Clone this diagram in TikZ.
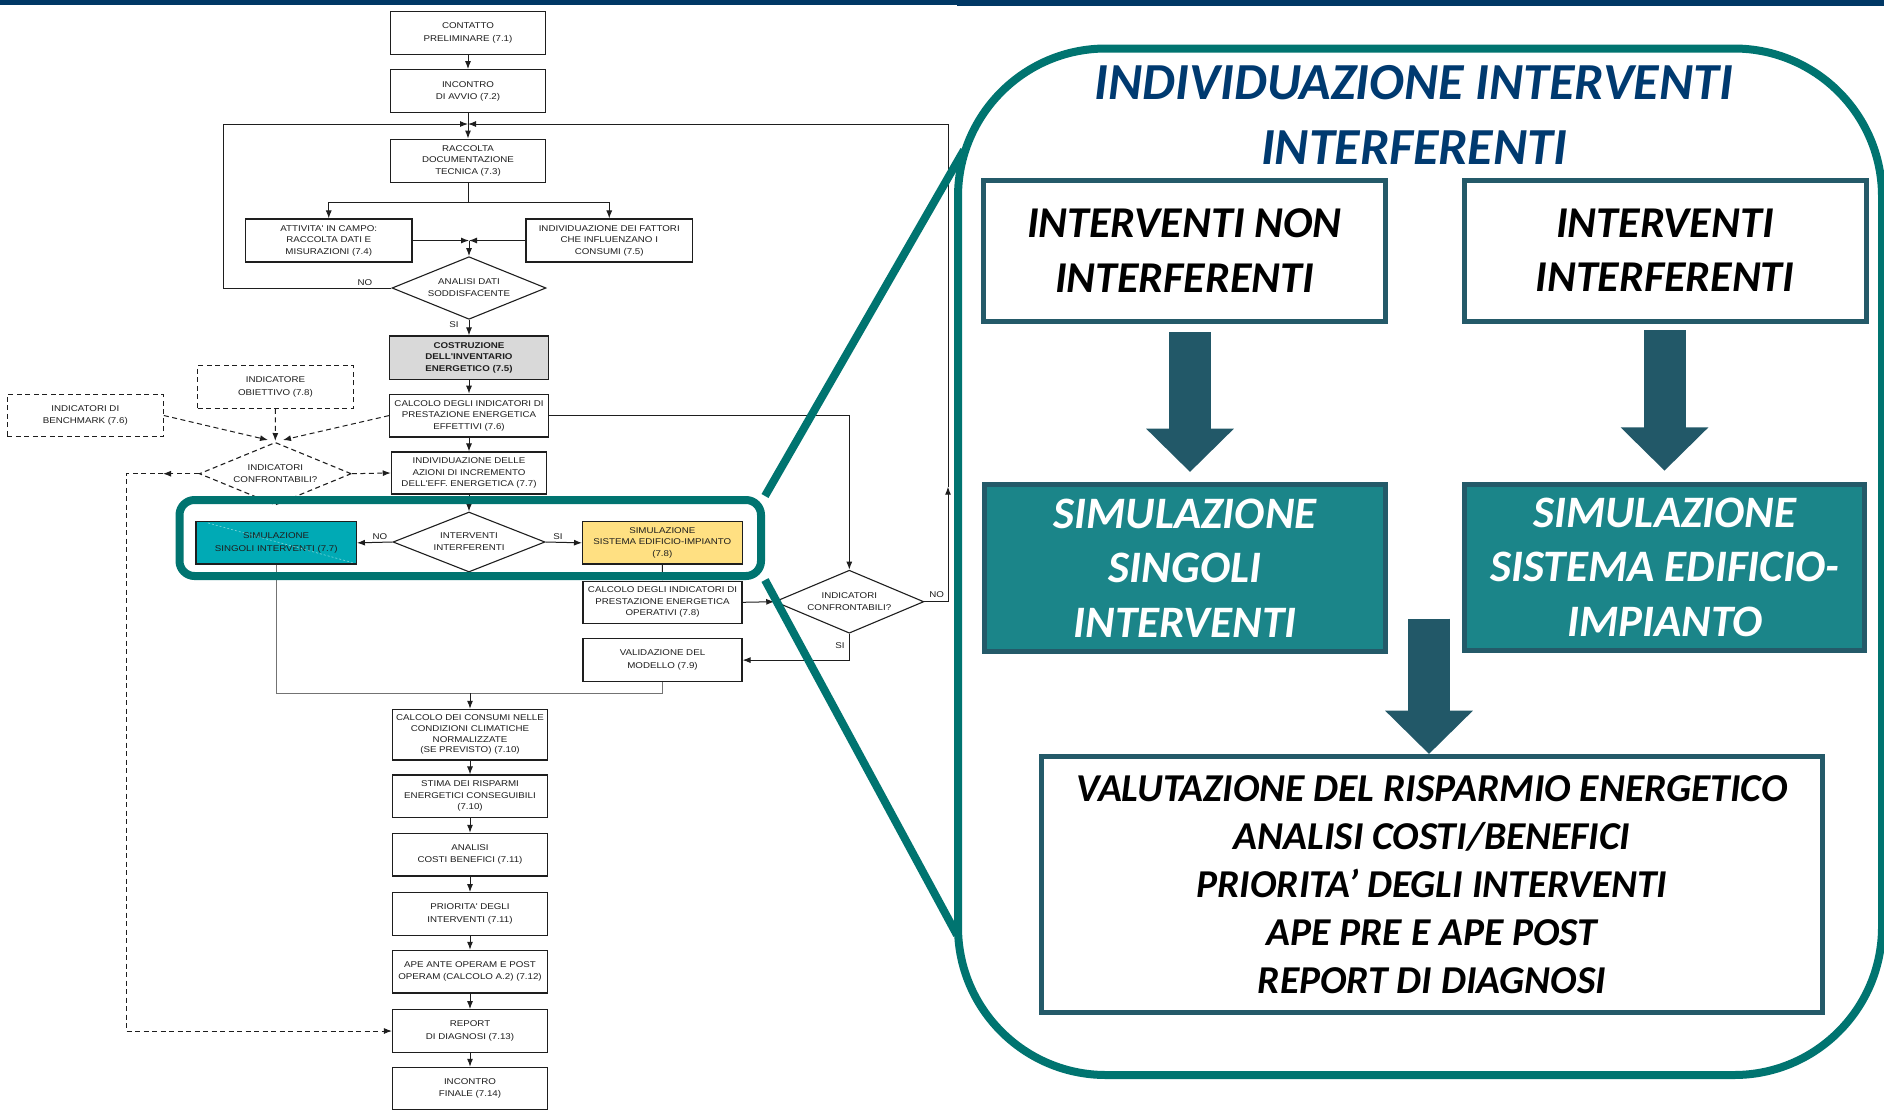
\documentclass[tikz,border=0pt]{standalone}
\usepackage{fontspec}
\usetikzlibrary{shapes.geometric,arrows.meta}
\newfontfamily\flowfont[FakeStretch=1.16]{Liberation Sans}
\newfontfamily\panelfont{Carlito}
\definecolor{navy}{RGB}{0,56,101}
\definecolor{tealline}{RGB}{0,116,112}
\definecolor{slate}{RGB}{36,90,105}
\definecolor{arrowcol}{RGB}{34,88,104}
\definecolor{tealfill}{RGB}{27,133,137}
\definecolor{titleblue}{RGB}{0,58,112}
\definecolor{cyanbox}{RGB}{0,170,181}
\definecolor{yellowbox}{RGB}{255,224,130}
\definecolor{greybox}{RGB}{217,217,217}
\definecolor{ink}{RGB}{30,30,30}
\begin{document}
\begin{tikzpicture}[x=1pt,y=-1pt,
  fc/.style={rectangle, draw=ink, line width=1.1pt, inner sep=1pt, align=center, text=ink,
    font=\flowfont\fontsize{8.4}{12.5}\selectfont},
  dia/.style={diamond, draw=ink, line width=1.1pt, inner sep=0pt, aspect=2.45, align=center,
    text=ink, font=\flowfont\fontsize{8.4}{12}\selectfont},
  dsh/.style={dash pattern=on 5pt off 3.5pt},
  lbl/.style={inner sep=0pt, text=ink, font=\flowfont\fontsize{8.4}{9}\selectfont},
  arr/.style={-{Latex[length=8pt,width=6pt]}},
  conn/.style={draw=ink, line width=1pt},
  thinconn/.style={draw=black!55, line width=0.9pt},
  pbox/.style={rectangle, draw=slate, line width=5pt, fill=white, inner sep=0pt, align=center,
    font=\panelfont\bfseries\itshape\fontsize{44}{54.4}\selectfont},
  tbox/.style={pbox, fill=tealfill, text=white,
    font=\panelfont\bfseries\itshape\fontsize{45}{54.7}\selectfont},
  blockarrow/.style={draw=arrowcol, line width=42pt, -{Triangle[length=43.4pt,width=85.3pt]}},
  hl/.style={draw=tealline, line width=8pt},
]
\useasboundingbox (0,0) rectangle (1884,1109);
\fill[white] (0,0) rectangle (1884,1109);

% header bands
\fill[navy] (0,0) rectangle (957,4.7);
\fill[navy] (957,0) rectangle (1884,5.7);

% ---------------- flowchart ----------------
\node[fc, minimum width=155, minimum height=42.6] (c1) at (468,33) {CONTATTO\\PRELIMINARE (7.1)};
\node[fc, minimum width=155, minimum height=43] (c2) at (468,91.2) {INCONTRO\\DI AVVIO (7.2)};
\node[fc, minimum width=155, minimum height=43, font=\flowfont\fontsize{8.4}{11.5}\selectfont] (c3) at (468,160.6) {RACCOLTA\\DOCUMENTAZIONE\\TECNICA (7.3)};
\node[fc, minimum width=166.5, minimum height=43, font=\flowfont\fontsize{8.4}{11.5}\selectfont] (c4) at (328.75,240.5) {ATTIVITA' IN CAMPO:\\RACCOLTA DATI E\\MISURAZIONI (7.4)};
\node[fc, minimum width=166.5, minimum height=43, font=\flowfont\fontsize{8.4}{11.5}\selectfont] (c5) at (609.25,240.5) {INDIVIDUAZIONE DEI FATTORI\\CHE INFLUENZANO I\\CONSUMI (7.5)};
\node[dia, minimum width=154, minimum height=62.6] (d1) at (469,288) {ANALISI DATI\\SODDISFACENTE};
\node[fc, fill=greybox, minimum width=159, minimum height=43.3, font=\flowfont\bfseries\fontsize{8.4}{11.5}\selectfont] (c6) at (469,357.6) {COSTRUZIONE\\DELL'INVENTARIO\\ENERGETICO (7.5)};
\node[fc, minimum width=159, minimum height=42.7, font=\flowfont\fontsize{8.4}{11.5}\selectfont] (c7) at (469,415.6) {CALCOLO DEGLI INDICATORI DI\\PRESTAZIONE ENERGETICA\\EFFETTIVI (7.6)};
\node[fc, dsh, minimum width=155.6, minimum height=42.6] (obj) at (275.5,387) {INDICATORE\\OBIETTIVO (7.8)};
\node[fc, dsh, minimum width=156, minimum height=42.4] (ben) at (85.3,415.5) {INDICATORI DI\\BENCHMARK (7.6)};
\node[dia, dsh, minimum width=152, minimum height=62.7] (d2) at (275.3,473.7) {INDICATORI\\CONFRONTABILI?};
\node[fc, minimum width=155.4, minimum height=42, font=\flowfont\fontsize{8.4}{11.5}\selectfont] (c8) at (469,473) {INDIVIDUAZIONE DELLE\\AZIONI DI INCREMENTO\\DELL'EFF. ENERGETICA (7.7)};
\node[dia, minimum width=152, minimum height=60] (d3) at (469,542) {INTERVENTI\\INTERFERENTI};
\node[fc, fill=cyanbox, minimum width=160.4, minimum height=42.3] (sing) at (276.2,542.85) {SIMULAZIONE\\SINGOLI INTERVENTI (7.7)};
\node[fc, fill=yellowbox, minimum width=159.5, minimum height=42.3, font=\flowfont\fontsize{8.4}{11.5}\selectfont] (sis) at (662.3,542.85) {SIMULAZIONE\\SISTEMA EDIFICIO-IMPIANTO\\(7.8)};
\node[fc, minimum width=159, minimum height=42, font=\flowfont\fontsize{8.4}{11.5}\selectfont] (opr) at (662.5,602.3) {CALCOLO DEGLI INDICATORI DI\\PRESTAZIONE ENERGETICA\\OPERATIVI (7.8)};
\node[dia, minimum width=149, minimum height=63] (d4) at (849.3,601.7) {INDICATORI\\CONFRONTABILI?};
\node[fc, minimum width=159, minimum height=43.2] (val) at (662.5,660.1) {VALIDAZIONE DEL\\MODELLO (7.9)};
\node[fc, minimum width=155, minimum height=50.7, font=\flowfont\fontsize{8.4}{10.8}\selectfont] (ccons) at (470,734.65) {CALCOLO DEI CONSUMI NELLE\\CONDIZIONI CLIMATICHE\\NORMALIZZATE\\(SE PREVISTO) (7.10)};
\node[fc, minimum width=155, minimum height=42.7, font=\flowfont\fontsize{8.4}{11.5}\selectfont] (stima) at (470,796.35) {STIMA DEI RISPARMI\\ENERGETICI CONSEGUIBILI\\(7.10)};
\node[fc, minimum width=155, minimum height=42.7] (anal) at (470,854.65) {ANALISI\\COSTI BENEFICI (7.11)};
\node[fc, minimum width=155, minimum height=42.7] (prio) at (470,914) {PRIORITA' DEGLI\\INTERVENTI (7.11)};
\node[fc, minimum width=155, minimum height=42.7] (ape) at (470,971.65) {APE ANTE OPERAM E POST\\OPERAM (CALCOLO A.2) (7.12)};
\node[fc, minimum width=155, minimum height=42.7] (rep) at (470,1031) {REPORT\\DI DIAGNOSI (7.13)};
\node[fc, minimum width=155, minimum height=42.7] (fin) at (470,1088.65) {INCONTRO\\FINALE (7.14)};

% faint streak across the cyan box
\draw[white, opacity=0.5, dash pattern=on 2pt off 2pt, line width=0.6pt] (208,523) -- (354,563);

% junction points and bends
\coordinate (j1) at (468,124);
\coordinate (j2) at (469,240.5);
\coordinate (lc) at (223.5,124);
\coordinate (ra) at (948,486.7);
\coordinate (convT) at (275.3,441);
\coordinate (convL) at (268,440);
\coordinate (convR) at (283,440);
\coordinate (dmid) at (163,473.7);
\coordinate (dl1) at (126,473.7);
\coordinate (dl2) at (126,1031);
\coordinate (mrgL) at (276.2,693.3);
\coordinate (mrg) at (470,693.3);

% connectors
\draw[conn,arr] (c1.south) -- (c2.north);
\draw[conn] (c2.south) -- (j1);
\draw[conn,arr] (j1) -- (c3.north);
\draw[conn,arr] (c3.south) -- ++(0,19.5) -| (c4.north);
\draw[conn,arr] (c3.south) -- ++(0,19.5) -| (c5.north);
\draw[conn,arr] (c4.east) -- (j2);
\draw[conn,arr] (c5.west) -- (j2);
\draw[conn,arr] (j2) -- (d1.north);
\draw[conn,arr] (d1.west) -| (lc) -- (j1);
\node[lbl] (noA) at (365,282.5) {NO};
\draw[conn,arr] (d1.south) -- (c6.north);
\node[lbl] (siA) at (454,325) {SI};
\draw[conn,arr] (c6.south) -- (c7.north);
\draw[conn,arr] (c7.south) -- (c8.north);
\draw[conn,arr] (c8.south) -- (d3.north);
\draw[conn,arr] (c7.east) -| (d4.north);

\draw[conn,dsh,arr] (obj.south) -- (convT);
\draw[conn,dsh,arr] (ben.east) -- (convL);
\draw[conn,dsh,arr] (c7.west) -- (convR);
\draw[conn,dsh,arr] (d2.east) -- (c8.west);
\draw[conn,dsh,arr] (d2.west) -- (dmid);
\draw[conn,dsh,arr] (dmid) -- (dl1) -- (dl2) -- (rep.west);

\draw[conn,arr] (d3.west) -- (sing.east);
\node[lbl] (noB) at (380,536.5) {NO};
\draw[conn,arr] (d3.east) -- (sis.west);
\node[lbl] (siB) at (558,536.5) {SI};
\draw[conn,arr] (sis.south) -- (opr.north);
\draw[conn,arr] (opr.east) -- (d4.west);
\draw[conn,arr] (d4.east) -| (ra);
\draw[conn,arr] (ra) |- (j1);
\node[lbl] (noC) at (936.7,594.5) {NO};
\draw[conn,arr] (d4.south) |- (val.east);
\node[lbl] (siC) at (840,646) {SI};

\draw[thinconn] (val.south) |- (mrgL);
\draw[thinconn] (sing.south) -- (mrgL);
\draw[conn,arr] (mrg) -- (ccons.north);
\draw[conn,arr] (ccons.south) -- (stima.north);
\draw[conn,arr] (stima.south) -- (anal.north);
\draw[conn,arr] (anal.south) -- (prio.north);
\draw[conn,arr] (prio.south) -- (ape.north);
\draw[conn,arr] (ape.south) -- (rep.north);
\draw[conn,arr] (rep.south) -- (fin.north);

% ---------------- highlighted zoom panel ----------------
\node[hl, rectangle, rounded corners=15pt, minimum width=581.5, minimum height=76, inner sep=0pt] (focus) at (470.25,538) {};
\node[hl, rectangle, rounded corners=148pt, minimum width=924, minimum height=1026.5, inner sep=0pt] (panel) at (1420,561.75) {};
\coordinate (pu) at (964,150);
\coordinate (pl) at (957,935);
\draw[hl] (focus.north east) -- (pu);
\draw[hl] (focus.south east) -- (pl);

\node[align=center, text=titleblue, inner sep=0pt,
  font=\panelfont\bfseries\itshape\fontsize{52}{64.3}\selectfont] (title) at (1414,114.9)
  {INDIVIDUAZIONE INTERVENTI\\INTERFERENTI};

\node[pbox, minimum width=402, minimum height=141] (boxA) at (1184.5,250.5) {INTERVENTI NON\\INTERFERENTI};
\node[pbox, minimum width=402, minimum height=141] (boxB) at (1665,250.5) {INTERVENTI\\INTERFERENTI};
\node[tbox, minimum width=401, minimum height=167] (simL) at (1185,568) {SIMULAZIONE\\SINGOLI\\INTERVENTI};
\node[tbox, minimum width=400, minimum height=166] (simR) at (1664.8,567.3) {SIMULAZIONE\\SISTEMA EDIFICIO-\\IMPIANTO};
\node[pbox, minimum width=781, minimum height=256,
  font=\panelfont\bfseries\itshape\fontsize{39.5}{48}\selectfont] (resA) at (1432,884.5)
  {VALUTAZIONE DEL RISPARMIO ENERGETICO\\ANALISI COSTI/BENEFICI\\PRIORITA’ DEGLI INTERVENTI\\APE PRE E APE POST\\REPORT DI DIAGNOSI};

\coordinate (aL1) at (1190,332);
\coordinate (aL2) at (1190,472);
\coordinate (aR1) at (1664.5,330);
\coordinate (aR2) at (1664.5,470.7);
\coordinate (aM1) at (1429,618.7);
\coordinate (aM2) at (1429,754);
\draw[blockarrow] (aL1) -- (aL2);
\draw[blockarrow] (aR1) -- (aR2);
\draw[blockarrow] (aM1) -- (aM2);
\end{tikzpicture}
\end{document}
